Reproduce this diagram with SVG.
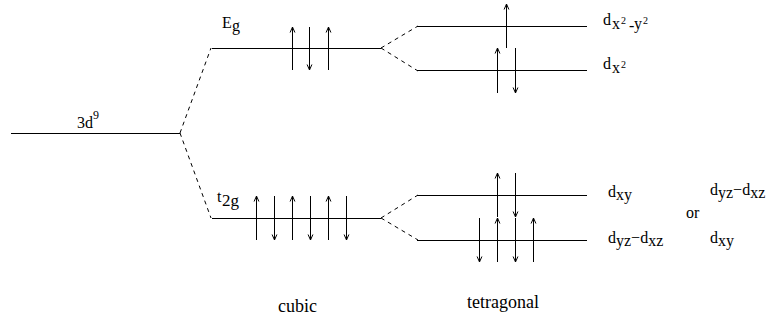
<svg xmlns="http://www.w3.org/2000/svg" width="777" height="320" viewBox="0 0 777 320">
<style>
.lvl{stroke:#000;stroke-width:1;fill:none}
.dash{stroke:#000;stroke-width:1;fill:none;stroke-dasharray:4,4}
.sp{stroke:#000;stroke-width:1;fill:none;marker-end:url(#ah)}
text{font-family:"Liberation Serif","Times New Roman",serif;font-size:16px;fill:#000}
.sup{font-size:10px}
.cap{font-size:18px}
</style>
<defs>
<marker id="ah" markerWidth="8" markerHeight="8" refX="6" refY="4" orient="auto" markerUnits="userSpaceOnUse">
<path d="M0.5,1.6 L6,4 L0.5,6.4" fill="none" stroke="#000" stroke-width="1"/>
</marker>
</defs>
<rect width="777" height="320" fill="#fff"/>

<g id="connectors">
<line class="dash" x1="180" y1="133" x2="211" y2="48"/>
<line class="dash" x1="180" y1="133" x2="211" y2="218"/>
<line class="dash" x1="381" y1="48" x2="418" y2="26"/>
<line class="dash" x1="381" y1="48" x2="418" y2="71"/>
<line class="dash" x1="381" y1="218" x2="418" y2="195"/>
<line class="dash" x1="381" y1="218" x2="418" y2="240"/>
</g>

<g id="level-3d9">
<line class="lvl" x1="11" y1="133.5" x2="180" y2="133.5"/>
<text x="77" y="128" font-size="15">3d<tspan font-size="12" x="93" y="119">9</tspan></text>
</g>

<g id="level-Eg">
<line class="lvl" x1="212" y1="48.5" x2="381" y2="48.5"/>
<text x="222" y="28" font-size="15">E<tspan font-size="16" x="232" y="31">g</tspan></text>
<line class="sp" x1="292.5" y1="70" x2="292.5" y2="27"/>
<line class="sp" x1="309.5" y1="27" x2="309.5" y2="70"/>
<line class="sp" x1="328.5" y1="70" x2="328.5" y2="27"/>
</g>

<g id="level-t2g">
<line class="lvl" x1="212" y1="218.5" x2="381" y2="218.5"/>
<text x="217" y="202" font-size="15">t<tspan font-size="17" x="222" y="206">2g</tspan></text>
<line class="sp" x1="256.5" y1="240" x2="256.5" y2="196"/>
<line class="sp" x1="274.5" y1="196" x2="274.5" y2="240"/>
<line class="sp" x1="292.5" y1="240" x2="292.5" y2="196"/>
<line class="sp" x1="310.5" y1="196" x2="310.5" y2="240"/>
<line class="sp" x1="328.5" y1="240" x2="328.5" y2="196"/>
<line class="sp" x1="346.5" y1="196" x2="346.5" y2="240"/>
</g>

<g id="level-dx2y2">
<line class="lvl" x1="417" y1="26.5" x2="587" y2="26.5"/>
<line class="sp" x1="506.5" y1="48" x2="506.5" y2="4"/>
<text x="603" y="25">d<tspan x="612" y="29">x</tspan><tspan class="sup" x="621" y="24">2</tspan><tspan x="629" y="31">-</tspan><tspan x="634" y="29">y</tspan><tspan class="sup" x="643" y="24">2</tspan></text>
</g>

<g id="level-dz2">
<line class="lvl" x1="417" y1="70.5" x2="587" y2="70.5"/>
<line class="sp" x1="497.5" y1="93" x2="497.5" y2="48"/>
<line class="sp" x1="515.5" y1="48" x2="515.5" y2="93"/>
<text x="603" y="69">d<tspan x="612" y="73">x</tspan><tspan class="sup" x="621" y="68">2</tspan></text>
</g>

<g id="level-dxy">
<line class="lvl" x1="417" y1="195.5" x2="587" y2="195.5"/>
<line class="sp" x1="497.5" y1="217" x2="497.5" y2="173"/>
<line class="sp" x1="515.5" y1="173" x2="515.5" y2="217"/>
<text x="608" y="197">d<tspan dy="3">xy</tspan></text>
</g>

<g id="level-dyz-dxz">
<line class="lvl" x1="417" y1="240.5" x2="587" y2="240.5"/>
<line class="sp" x1="479.5" y1="218" x2="479.5" y2="262"/>
<line class="sp" x1="497.5" y1="262" x2="497.5" y2="218"/>
<line class="sp" x1="515.5" y1="218" x2="515.5" y2="262"/>
<line class="sp" x1="533.5" y1="262" x2="533.5" y2="218"/>
<text x="608" y="243">d<tspan dy="3">yz</tspan><tspan dy="-3">−d</tspan><tspan dy="3">xz</tspan></text>
</g>

<g id="alt-labels">
<text x="686" y="218" font-size="17">or</text>
<text x="710" y="195">d<tspan dy="3">yz</tspan><tspan dy="-3">−d</tspan><tspan dy="3">xz</tspan></text>
<text x="710" y="243">d<tspan dy="3">xy</tspan></text>
</g>

<g id="captions">
<text class="cap" x="278" y="312">cubic</text>
<text class="cap" x="467" y="308">tetragonal</text>
</g>
</svg>
